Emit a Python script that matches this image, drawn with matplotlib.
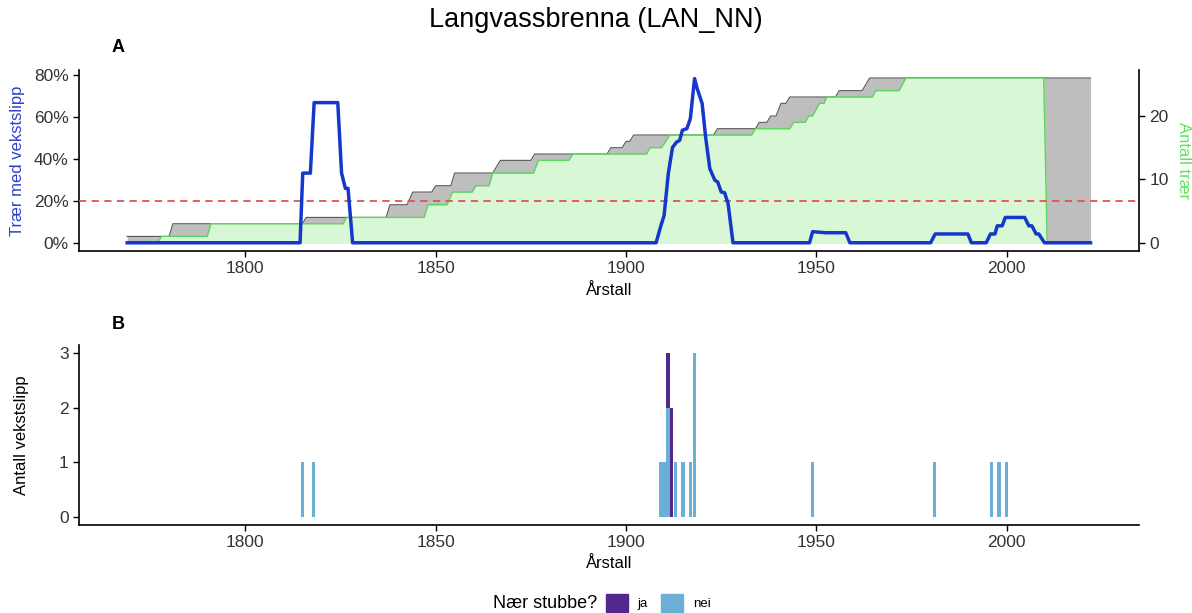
import matplotlib.pyplot as plt
import numpy as np
from matplotlib.patches import Patch
from matplotlib.ticker import PercentFormatter

plt.rcParams['font.family'] = ['Liberation Sans', 'DejaVu Sans']

# Panel A: andel trær med vekstslipp (knekkpunkter lest av figuren)
slipp_aar = [1769, 1814.4, 1815.1, 1817.1, 1818.1, 1824.3, 1825.3, 1826.3, 1827, 1828.2,
             1907.9, 1909.2, 1910, 1911.1, 1912.2, 1913.2, 1914.1, 1914.8, 1916, 1916.9,
             1918, 1918.7, 1920, 1920.9, 1922, 1923.3, 1924.1, 1925, 1925.9, 1926.8,
             1928.1, 1948.2, 1949, 1952.5, 1957.7, 1958.8, 1980, 1981.2, 1989.8, 1990.7,
             1994.6, 1995.7, 1996.9, 1997.5, 1998.8, 1999.6, 2004.7, 2005.8, 2006.6, 2007.7,
             2008.4, 2009.9, 2022]
slipp_pst = [0, 0, 33.3, 33.3, 67, 67, 33.3, 26, 26, 0,
             0, 8.4, 13, 33, 45.5, 48, 49, 53.8, 54.6, 59.4,
             78.5, 73.7, 66.5, 50.6, 35.5, 30, 29, 24.3, 23.9, 18.8,
             0, 0, 5.3, 4.8, 4.8, 0, 0, 4.2, 4.2, 0,
             0, 4.2, 4.2, 8.1, 8.1, 12.1, 12.1, 8.1, 8.1, 4.2,
             4.2, 0, 0]

# antall trær totalt (grå)
tot_aar = [1769, 1780, 1781, 1815, 1816, 1837, 1838, 1842.5, 1844, 1849, 1850, 1854, 1855,
           1865, 1867, 1875, 1876, 1895, 1896, 1899, 1900, 1901, 1902, 1923, 1924, 1934,
           1935, 1937, 1938, 1939.4, 1940.7, 1942, 1943, 1955, 1956, 1962, 1963, 1964, 2022]
tot_antall = [1, 1, 3, 3, 4, 4, 6, 6, 8, 8, 9, 9, 11,
              11, 13, 13, 14, 14, 15, 15, 16, 16, 17, 17, 18, 18,
              19, 19, 20, 20, 22, 22, 23, 23, 24, 24, 25, 26, 26]

# antall levende trær (grønn)
lev_aar = [1769, 1777, 1778, 1790, 1791, 1825.7, 1826.6, 1847, 1848, 1853, 1854.4, 1859.6,
           1860.5, 1864, 1865, 1875.7, 1877, 1885, 1886, 1905.4, 1906.3, 1909.3, 1911.5,
           1933, 1934, 1943, 1944, 1947, 1948, 1949, 1950.8, 1952, 1952.7, 1964.7, 1965.6,
           1971.7, 1973.5, 2009.7, 2010.6, 2022]
lev_antall = [0, 0, 1, 1, 3, 3, 4, 4, 6, 6, 8, 8,
              9, 9, 11, 11, 13, 13, 14, 14, 15, 15, 17,
              17, 18, 18, 19, 19, 20, 20, 22, 22, 23, 23, 24,
              24, 26, 26, 0, 0]

# Panel B: antall vekstslipp per år
nei_aar = [1815, 1818, 1909, 1910, 1911, 1913, 1915, 1917, 1918, 1949, 1981, 1996, 1998, 2000]
nei_antall = [1, 1, 1, 1, 2, 1, 1, 1, 3, 1, 1, 1, 1, 1]
ja_aar = [1911, 1912]
ja_antall = [1, 2]

K = 33.0  # trær per 100 %
xlim = (1756.35, 2034.65)
grey_txt = '#333333'

fig = plt.figure(figsize=(11.92, 6.13), dpi=100)
fig.text(0.5, 0.967, 'Langvassbrenna (LAN_NN)', ha='center', va='center', fontsize=19.5)

# ---- A ----
axA = fig.add_axes([0.0663, 0.5905, 0.889, 0.2953])
tot_s = np.array(tot_antall) / K
lev_s = np.array(lev_antall) / K
axA.fill_between(tot_aar, 0, tot_s, color='#bebebe', lw=0, zorder=1)
axA.plot(tot_aar, tot_s, color='#555555', lw=0.8, zorder=2)
axA.fill_between(lev_aar, 0, lev_s, color='#d8f8d5', lw=0, zorder=3)
axA.plot(lev_aar, lev_s, color='#5cd65c', lw=1.0, zorder=4)
axA.axhline(0.20, color='#e05252', lw=1.3, ls=(0, (4, 3)), zorder=5)
axA.plot(slipp_aar, np.array(slipp_pst) / 100, color='#1438cc', lw=2.5, zorder=6,
         solid_joinstyle='round')
axA.set_xlim(*xlim)
axA.set_ylim(-0.0395, 0.826)
axA.yaxis.set_major_formatter(PercentFormatter(1.0, decimals=0))
axA.set_yticks([0, 0.2, 0.4, 0.6, 0.8])
axA.set_xticks([1800, 1850, 1900, 1950, 2000])
axA.set_xlabel('Årstall', fontsize=12, labelpad=5)
axA.set_ylabel('Trær med vekstslipp', fontsize=12, color='#2e3fd0')
axA.yaxis.set_label_coords(-0.051, 0.5)
sec = axA.secondary_yaxis('right', functions=(lambda y: y * K, lambda t: t / K))
sec.set_yticks([0, 10, 20])
sec.set_ylabel('Antall trær', fontsize=12, color='#5fe35f', rotation=270, labelpad=16)
sec.tick_params(labelsize=12.5, labelcolor=grey_txt, width=1, length=4)
sec.spines['right'].set_linewidth(1.2)
fig.text(0.099, 0.923, 'A', fontsize=13, fontweight='bold', ha='center', va='center')

# ---- B ----
axB = fig.add_axes([0.0663, 0.1436, 0.889, 0.2936])
axB.bar(nei_aar, nei_antall, width=0.9, color='#6baed6', zorder=2)
bunn = [dict(zip(nei_aar, nei_antall)).get(a, 0) for a in ja_aar]
axB.bar(ja_aar, ja_antall, width=0.9, bottom=bunn, color='#54278f', zorder=3)
axB.set_xlim(*xlim)
axB.set_ylim(-0.15, 3.15)
axB.set_yticks([0, 1, 2, 3])
axB.set_xticks([1800, 1850, 1900, 1950, 2000])
axB.set_xlabel('Årstall', fontsize=12, labelpad=4)
axB.set_ylabel('Antall vekstslipp', fontsize=12)
axB.yaxis.set_label_coords(-0.047, 0.5)
fig.text(0.099, 0.471, 'B', fontsize=13, fontweight='bold', ha='center', va='center')

for ax in (axA, axB):
    for s in ('top', 'right'):
        ax.spines[s].set_visible(False)
    for s in ('left', 'bottom'):
        ax.spines[s].set_linewidth(1.2)
    ax.tick_params(labelsize=12.5, labelcolor=grey_txt, width=1, length=4)

# legende
leg_y = 1 - 603 / 613
fig.text(0.501, leg_y, 'Nær stubbe?', fontsize=13, ha='right', va='center')
handles = [Patch(color='#54278f', label='ja'), Patch(color='#6baed6', label='nei')]
fig.legend(handles=handles, loc='center left', bbox_to_anchor=(0.5084, leg_y), ncol=2,
           frameon=False, fontsize=9.5, handlelength=1.67, handleheight=1.67,
           handletextpad=0.7, columnspacing=1.05, borderaxespad=0, borderpad=0)

fig.savefig('out.png', dpi=100)
